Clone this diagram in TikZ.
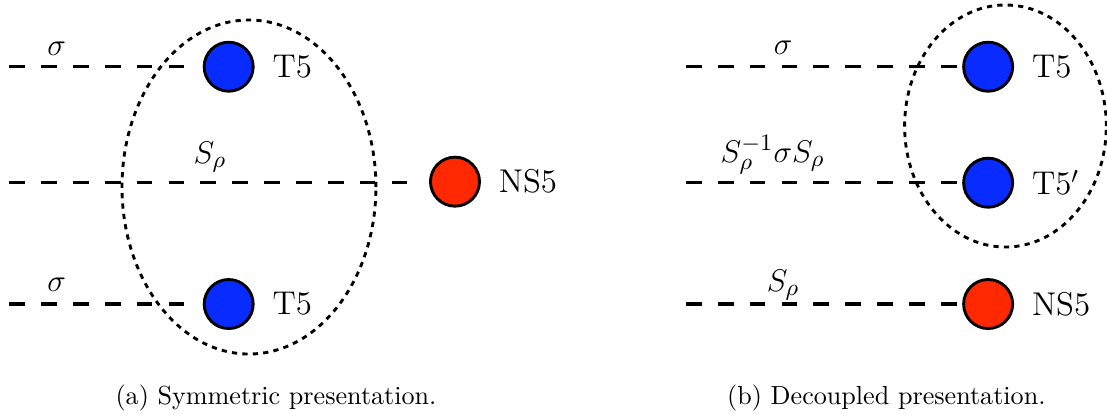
\documentclass[tikz,border=0pt]{standalone}
\usepackage{tikz}
\usetikzlibrary{positioning,calc}
\definecolor{tblue}{RGB}{8,44,255}
\definecolor{nsred}{RGB}{255,40,0}
\tikzset{
  brane/.style={circle, draw=black, line width=1.1pt, minimum size=6.6mm, inner sep=0pt},
  tfive/.style={brane, fill=tblue},
  nsfive/.style={brane, fill=nsred},
  blbl/.style={font=\fontsize{12.6}{15}\selectfont, inner sep=1pt},
  wlbl/.style={font=\fontsize{12.6}{15}\selectfont, inner sep=0pt},
  dline/.style={line width=1.2pt, dash pattern=on 6pt off 6.2pt},
  grp/.style={line width=1.1pt, dash pattern=on 2pt off 2pt},
  subcap/.style={font=\normalsize},
}
\begin{document}
\begin{tikzpicture}
\useasboundingbox (0,0) rectangle (14.90,-5.572);

% ============================ (a) symmetric ==============================
\node[tfive]  (ta1) at (3.078,-0.898) {};
\node[tfive]  (ta2) at (3.078,-4.092) {};
\node[nsfive] (nsa) at (6.124,-2.445) {};
\node[blbl, right=2.0mm of ta1] {T5};
\node[blbl, right=2.0mm of ta2] {T5};
\node[blbl, right=2.0mm of nsa] {NS5};

\coordinate (la1) at (0.125,-0.898);
\coordinate (la2) at (0.125,-2.459);
\coordinate (la3) at (0.125,-4.092);
\draw[dline, shorten >=2.35mm] (la1) -- (ta1);
\draw[dline, shorten >=2.5mm]  (la2) -- (la2 -| nsa.west);
\draw[dline, shorten >=2.35mm] (la3) -- (ta2);

\node[wlbl] at (0.763,-0.650) {$\sigma$};
\node[wlbl] at (2.826,-2.113) {$S_\rho$};
\node[wlbl] at (0.763,-3.836) {$\sigma$};

\draw[grp] (3.351,-2.517) ellipse [x radius=1.709, y radius=2.248];

\node[subcap] at (3.715,-5.357) {(a) Symmetric presentation.};

% ============================ (b) decoupled ==============================
\foreach \n/\y/\sty in {tb1/-0.898/tfive, tb2/-2.459/tfive, nsb/-4.092/nsfive}
{
  \node[\sty] (\n) at (13.30,\y) {};
  \coordinate (l\n) at (9.233,\y);
  \draw[dline] (l\n) -- (\n);
}
\node[blbl, right=2.0mm of tb1] {T5};
\node[blbl, right=2.0mm of tb2] {T5$'$};
\node[blbl, right=2.0mm of nsb] {NS5};

\node[wlbl] at (10.54,-0.646) {$\sigma$};
\node[wlbl] at (10.40,-2.086) {$S_\rho^{-1}\sigma S_\rho$};
\node[wlbl] at (10.54,-3.836) {$S_\rho$};

\draw[grp] (13.533,-1.696) ellipse [x radius=1.357, y radius=1.629];

\node[subcap] at (11.93,-5.357) {(b) Decoupled presentation.};

\end{tikzpicture}
\end{document}
